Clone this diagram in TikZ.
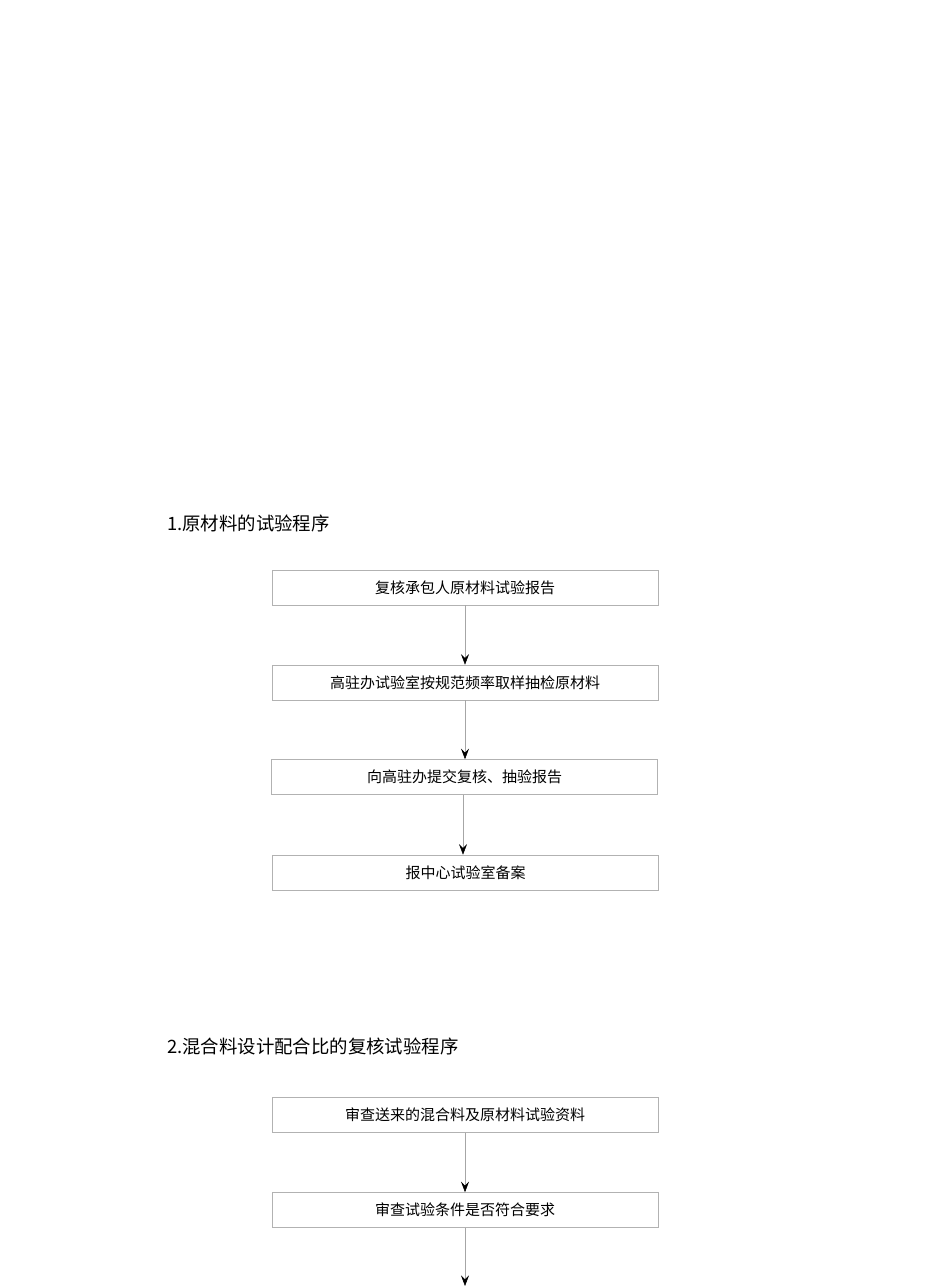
\documentclass[tikz,border=0pt]{standalone}
\usepackage{fontspec}
\setmainfont{Noto Sans CJK SC}
\usetikzlibrary{arrows.meta}

\begin{document}
\begin{tikzpicture}
  [
    x=0.75pt, y=-0.75pt,
    title/.style={anchor=west,inner sep=0pt,font=\fontsize{13.8}{16}\selectfont},
    box/.style={draw=black!30,thin,minimum width=289.5pt,minimum height=26.25pt,
      inner sep=0pt,font=\fontsize{11.25}{13}\selectfont},
    flow/.style={draw=black!35,thin,-{Stealth[black,length=8pt,width=6pt,inset=3pt]}}
  ]
  \fill[white] (0,0) rectangle (950,1286);
  \useasboundingbox (0,0) rectangle (950,1286);
  % raw material testing
  \node[title] (t1) at (167,523) {1.原材料的试验程序};
  \node[box] (b1) at (465,587.5) {复核承包人原材料试验报告};
  \node[box] (b2) at (465,682.5) {高驻办试验室按规范频率取样抽检原材料};
  \node[box] (b3) at (464.5,777) {向高驻办提交复核、抽验报告};
  \node[box] (b4) at (465.5,872.5) {报中心试验室备案};
  \draw[flow] (b1.south) -- (b2.north);
  \draw[flow] (b2.south) -- (b2.south |- b3.north);
  \draw[flow] (b3.south -| 463,0) -- (b4.north -| 463,0);
  % mix design check
  \node[title] (t2) at (167,1046) {2.混合料设计配合比的复核试验程序};
  \node[box] (b5) at (465,1115) {审查送来的混合料及原材料试验资料};
  \node[box] (b6) at (465,1210) {审查试验条件是否符合要求};
  \coordinate (end) at (465,1286);
  \draw[flow] (b5.south) -- (b6.north);
  \draw[flow] (b6.south) -- (end);
\end{tikzpicture}
\end{document}
